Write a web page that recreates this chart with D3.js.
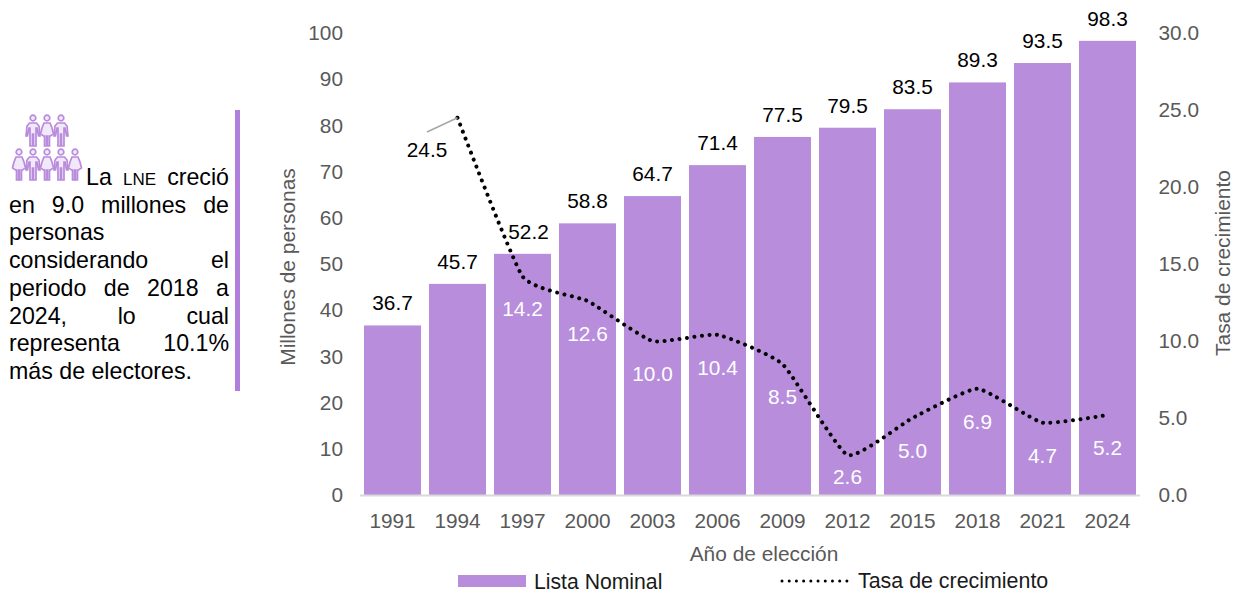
<!DOCTYPE html>
<html><head><meta charset="utf-8">
<script src="https://cdn.jsdelivr.net/npm/d3@7/dist/d3.min.js"></script>
<style>
html,body{margin:0;padding:0;background:#fff}
svg{display:block;font-family:"Liberation Sans",Arial,sans-serif}
</style></head><body><div id="chart"></div>
<script>
const years = ["1991","1994","1997","2000","2003","2006","2009","2012","2015","2018","2021","2024"];
const listaNominal = [36.7,45.7,52.2,58.8,64.7,71.4,77.5,79.5,83.5,89.3,93.5,98.3];
const tasa = [null,24.5,14.2,12.6,10.0,10.4,8.5,2.6,5.0,6.9,4.7,5.2];
const noteLines = [
  [["La "],["LNE","small"],[" creció"]],
  [["en 9.0 millones de"]],
  [["personas"]],
  [["considerando el"]],
  [["periodo de 2018 a"]],
  [["2024, lo cual"]],
  [["representa 10.1%"]],
  [["más de electores."]]
];
const W=1238,H=593,purple="#b78ddc",grey="#595959",fs=20.8,tfs=20.9;
const svg=d3.select("#chart").append("svg").attr("width",W).attr("height",H);
const x=d3.scaleBand().domain(years).range([360,1140]).paddingInner(0.123).paddingOuter(0.0615);
const yL=d3.scaleLinear().domain([0,100]).range([495,33]);
const yR=d3.scaleLinear().domain([0,30]).range([495,33]);
const cx=d=>x(d)+x.bandwidth()/2;

svg.selectAll("rect.bar").data(years).join("rect").attr("class","bar")
 .attr("x",d=>x(d)).attr("width",x.bandwidth())
 .attr("y",(d,i)=>yL(listaNominal[i])).attr("height",(d,i)=>495-yL(listaNominal[i])).attr("fill",purple);

const style=g=>{g.select(".domain").remove();g.selectAll("line").remove();
  g.selectAll("text").attr("fill",grey).style("font-size",fs+"px").style("font-family","inherit");};
svg.append("g").attr("transform","translate(343,0)").call(d3.axisLeft(yL).tickValues(d3.range(0,101,10)).tickSize(0).tickPadding(0)).call(style);
svg.append("g").attr("transform","translate(1158.5,0)").call(d3.axisRight(yR).tickValues(d3.range(0,31,5)).tickSize(0).tickPadding(0).tickFormat(d3.format(".1f"))).call(style);
svg.append("g").attr("transform","translate(0,495)").call(d3.axisBottom(x).tickSize(0).tickPadding(18)).call(style)
 .call(g=>g.append("line").attr("x1",360).attr("x2",1140).attr("y1",0.5).attr("y2",0.5).attr("stroke","#d9d9d9").attr("stroke-width",2));

const line=d3.line().defined(d=>d!=null).x((d,i)=>cx(years[i])).y(d=>yR(d)).curve(d3.curveCardinal.tension(0.55));
svg.append("path").datum(tasa).attr("d",line).attr("fill","none").attr("stroke","#000").attr("stroke-width",4)
 .attr("stroke-linecap","round").attr("stroke-dasharray","0.01 7.5");

// leader line of the 24.5 label
svg.append("line").attr("x1",427).attr("y1",132).attr("x2",cx("1994")).attr("y2",yR(24.5)).attr("stroke","#a6a6a6").attr("stroke-width",1.5);

const lab=(t,px,py,c)=>svg.append("text").attr("x",px).attr("y",py).attr("text-anchor","middle").attr("dominant-baseline","central")
  .style("font-size",fs+"px").attr("fill",c).text(t);
years.forEach((d,i)=>lab(listaNominal[i].toFixed(1),d==="1997"?cx(d)+6:cx(d),yL(listaNominal[i])-22.5,"#000"));
tasa.forEach((v,i)=>{ if(v==null)return;
  if(i===1) lab(v.toFixed(1),427,149,"#000");
  else lab(v.toFixed(1),cx(years[i]),yR(v)+(v===2.6?22:32.5),"#fff");
});

const title=(t,px,py,rot)=>svg.append("text").attr("transform",`translate(${px},${py}) rotate(${rot})`).attr("text-anchor","middle")
  .attr("dominant-baseline","central").style("font-size",tfs+"px").attr("fill",grey).text(t);
title("Millones de personas",287,267,-90);
title("Tasa de crecimiento",1222,263,-90);
title("Año de elección",764,553,0);

// legend
svg.append("rect").attr("x",458).attr("y",575).attr("width",68).attr("height",12).attr("fill",purple);
svg.append("text").attr("x",534).attr("y",581).attr("dominant-baseline","central").style("font-size","21.2px").attr("fill","#1a1a1a").text("Lista Nominal");
svg.append("line").attr("x1",782).attr("x2",850).attr("y1",581).attr("y2",581).attr("stroke","#000").attr("stroke-width",3)
 .attr("stroke-linecap","round").attr("stroke-dasharray","0.01 7.2");
svg.append("text").attr("x",858).attr("y",581).attr("dominant-baseline","central").style("font-size","21.4px").attr("fill","#1a1a1a").text("Tasa de crecimiento");

// side rule
svg.append("rect").attr("x",235).attr("y",110).attr("width",5).attr("height",281).attr("fill","#b07fdc");

// people icons
function person(cxp,top,female){
  const g=svg.append("g").attr("transform",`translate(${cxp},${top})`).attr("fill","#f1e8f9").attr("stroke","#b88bdc").attr("stroke-width",1.7);
  g.append("circle").attr("cx",0).attr("cy",4).attr("r",2.8);
  if(female){
    g.append("path").attr("d","M-3 9 H3 L5 14 L6.5 20 L3.5 22 H2.5 V32 H0.5 V22 H-0.5 V32 H-2.5 V22 H-3.5 L-6.5 20 L-5 14 Z");
  } else {
    g.append("path").attr("d","M-3.5 9 H3.5 L6 12 L7 22 H5.5 L4 14 H3 V32 H0.5 V20 H-0.5 V32 H-3 V14 H-4 L-5.5 22 H-7 L-6 12 Z");
  }
}
[33,47,61].forEach((c,i)=>person(c,114,i===1));
[19,33,47,61,75].forEach((c,i)=>person(c,148,i%2===0));

// note text, justified by hand between the two margins
const noteLeft=9,noteRight=229,noteFs=23.2,smallFs=17;
const measure=svg.append("text");
const widthOf=(t,f)=>{measure.style("font-size",f+"px").text(t);return measure.node().getComputedTextLength();};
noteLines.forEach((ln,k)=>{
  const base=185+k*27.7;
  const justified=![2,7].includes(k);
  const start=k===0?86:noteLeft;
  const words=[];
  ln.forEach(([t,sz])=>t.trim().split(" ").forEach(w=>words.push({w,f:sz?smallFs:noteFs})));
  const total=d3.sum(words,d=>widthOf(d.w,d.f));
  const gap=justified&&words.length>1?(noteRight-start-total)/(words.length-1):widthOf("a a",noteFs)-2*widthOf("a",noteFs);
  let px=start;
  words.forEach(d=>{
    svg.append("text").attr("x",px).attr("y",base).style("font-size",d.f+"px").attr("fill","#000").text(d.w);
    px+=widthOf(d.w,d.f)+gap;
  });
});
measure.remove();
</script></body></html>
